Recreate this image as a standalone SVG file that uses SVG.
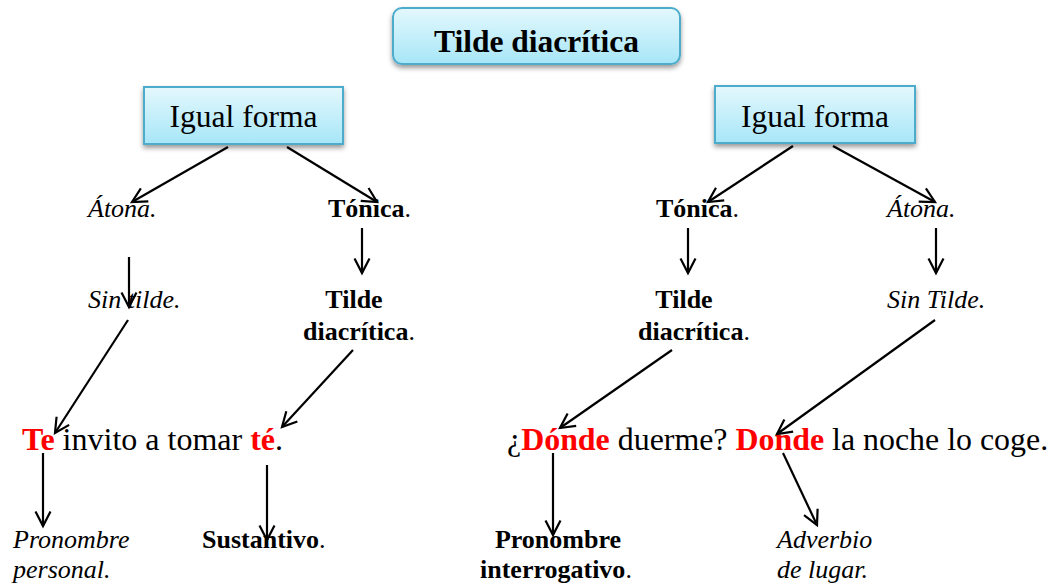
<svg xmlns="http://www.w3.org/2000/svg" width="1053" height="586" viewBox="0 0 1053 586" font-family="'Liberation Serif', Tinos, 'Times New Roman', 'DejaVu Serif', serif">
<defs>
<linearGradient id="boxGrad" x1="0" y1="0" x2="0" y2="1">
<stop offset="0" stop-color="#e4f8fd"/>
<stop offset="1" stop-color="#a7e6f8"/>
</linearGradient>
<filter id="shadow" x="-10%" y="-20%" width="120%" height="150%">
<feDropShadow dx="0" dy="3" stdDeviation="2.4" flood-color="#000" flood-opacity="0.4"/>
</filter>
<marker id="arr" markerUnits="userSpaceOnUse" markerWidth="20" markerHeight="20" viewBox="-16 -10 20 20" refX="0" refY="0" orient="auto">
<path d="M-14.5,-7.5 L0,0 L-14.5,7.5" fill="none" stroke="#000" stroke-width="2.2"/>
</marker>
</defs>
<style>
text{font-family:'Liberation Serif', Tinos, 'Times New Roman', 'DejaVu Serif', serif;fill:#000}
.big{font-size:31.5px}
.sent{font-size:31.9px}
.sm{font-size:26px}
.b{font-weight:bold}
.i{font-style:italic}
.red{fill:#ff0000;font-weight:bold}
.box{fill:url(#boxGrad);stroke:#4eaccb;stroke-width:2;filter:url(#shadow)}
.c line{stroke:#000;stroke-width:2.2;marker-end:url(#arr)}
</style>
<rect width="1053" height="586" fill="#fff"/>

<g id="title">
<rect class="box" x="393" y="8" width="287" height="56" rx="9"/>
<text class="big b" x="536.5" y="52" text-anchor="middle">Tilde diacrítica</text>
</g>
<g id="igual-left">
<rect class="box" x="144" y="87" width="199" height="57"/>
<text class="big" x="243.5" y="127" text-anchor="middle">Igual forma</text>
</g>
<g id="igual-right">
<rect class="box" x="715" y="86" width="200" height="57"/>
<text class="big" x="815" y="127" text-anchor="middle">Igual forma</text>
</g>

<g id="atona-left"><text class="sm i" x="88" y="217">Átona.</text></g>
<g id="tonica-left"><text class="sm" x="328" y="217"><tspan class="b">Tónica</tspan>.</text></g>
<g id="sintilde-left"><text class="sm i" x="88" y="308">Sin tilde.</text></g>
<g id="tilde-left"><text class="sm b" x="354" y="308" text-anchor="middle">Tilde</text><text class="sm" x="303" y="340"><tspan class="b">diacrítica</tspan>.</text></g>
<g id="sentence-left"><text class="sent" x="22" y="450" style="font-size:32px"><tspan class="red">Te</tspan> invito a tomar <tspan class="red">té</tspan>.</text></g>
<g id="pronombre-personal"><text class="sm i" x="13" y="548">Pronombre</text><text class="sm i" x="13" y="578">personal.</text></g>
<g id="sustantivo"><text class="sm" x="202" y="548"><tspan class="b">Sustantivo</tspan>.</text></g>

<g id="tonica-right"><text class="sm" x="656" y="217"><tspan class="b">Tónica</tspan>.</text></g>
<g id="atona-right"><text class="sm i" x="887" y="217">Átona.</text></g>
<g id="tilde-right"><text class="sm b" x="684" y="308" text-anchor="middle">Tilde</text><text class="sm" x="638" y="340"><tspan class="b">diacrítica</tspan>.</text></g>
<g id="sintilde-right"><text class="sm i" x="887" y="308">Sin Tilde.</text></g>
<g id="sentence-right"><text class="sent" x="507" y="450">¿<tspan class="red">Dónde</tspan> duerme? <tspan class="red">Donde</tspan> la noche lo coge.</text></g>
<g id="pronombre-interrogativo"><text class="sm b" x="558" y="548" text-anchor="middle">Pronombre</text><text class="sm" x="480" y="578"><tspan class="b">interrogativo</tspan>.</text></g>
<g id="adverbio"><text class="sm i" x="777" y="548">Adverbio</text><text class="sm i" x="777" y="578">de lugar.</text></g>

<g id="connectors" class="c">
<line x1="228" y1="147" x2="132" y2="202"/>
<line x1="287" y1="147" x2="377" y2="202"/>
<line x1="129" y1="257" x2="129" y2="307"/>
<line x1="362" y1="228" x2="362" y2="273"/>
<line x1="128" y1="320" x2="55" y2="433"/>
<line x1="353" y1="350" x2="282" y2="427"/>
<line x1="43" y1="453" x2="43" y2="526"/>
<line x1="267" y1="465" x2="267" y2="540"/>
<line x1="793" y1="146" x2="708" y2="202"/>
<line x1="833" y1="146" x2="935" y2="202"/>
<line x1="688" y1="228" x2="688" y2="273"/>
<line x1="936" y1="228" x2="936" y2="273"/>
<line x1="672" y1="350" x2="560" y2="428"/>
<line x1="935" y1="320" x2="777" y2="434"/>
<line x1="553" y1="453" x2="553" y2="535"/>
<line x1="783" y1="453" x2="817" y2="525"/>
</g>
</svg>
